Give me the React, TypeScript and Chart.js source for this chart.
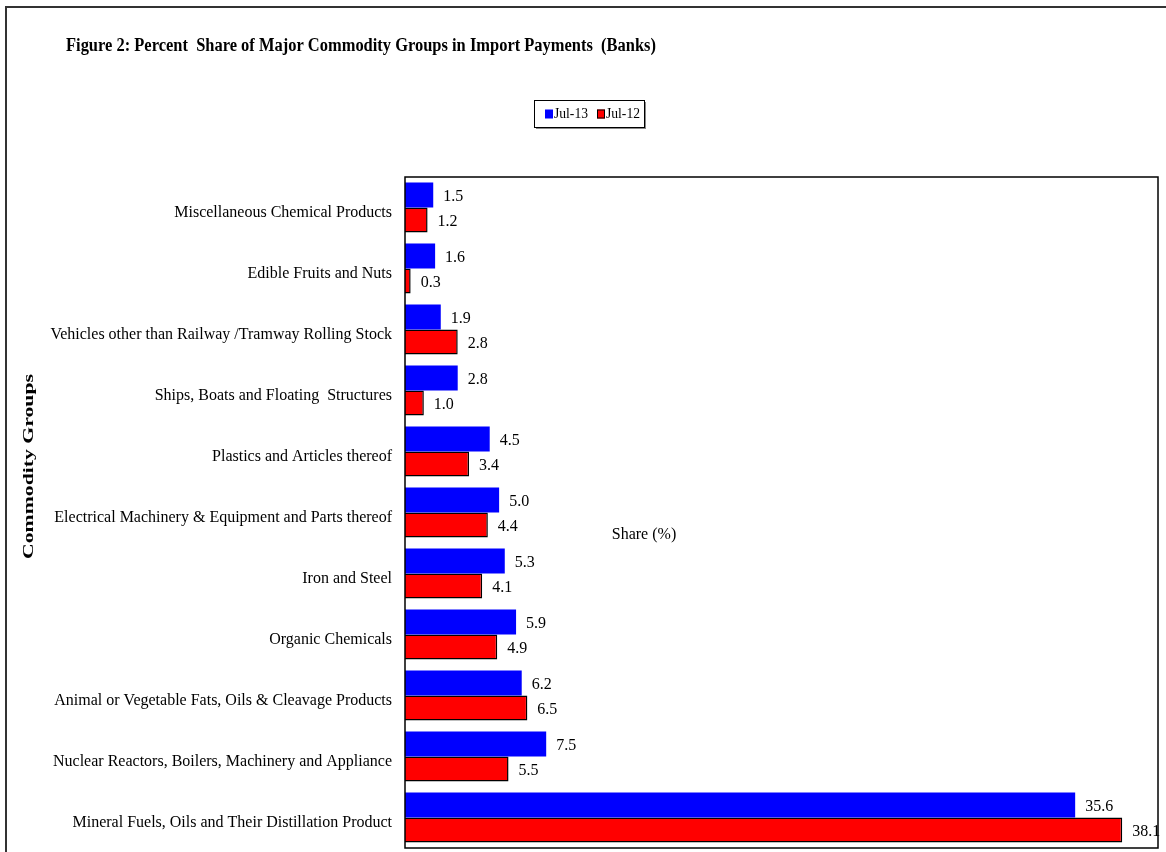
import React, { useEffect, useRef } from "react";
import { Chart, registerables } from "chart.js";

Chart.register(...registerables);

const categories: string[] = [
  "Miscellaneous Chemical Products",
  "Edible Fruits and Nuts",
  "Vehicles other than Railway /Tramway Rolling Stock",
  "Ships, Boats and Floating  Structures",
  "Plastics and Articles thereof",
  "Electrical Machinery & Equipment and Parts thereof",
  "Iron and Steel",
  "Organic Chemicals",
  "Animal or Vegetable Fats, Oils & Cleavage Products",
  "Nuclear Reactors, Boilers, Machinery and Appliance",
  "Mineral Fuels, Oils and Their Distillation Product",
];

const jul13: number[] = [1.5, 1.6, 1.9, 2.8, 4.5, 5.0, 5.3, 5.9, 6.2, 7.5, 35.6];
const jul12: number[] = [1.2, 0.3, 2.8, 1.0, 3.4, 4.4, 4.1, 4.9, 6.5, 5.5, 38.1];

const seriesNames: string[] = ["Jul-13", "Jul-12"];
const titleText = "Figure 2: Percent  Share of Major Commodity Groups in Import Payments  (Banks)";
const yTitleText = "Commodity Groups";
const xTitleText = "Share (%)";

const SERIF = '"Liberation Serif", "Times New Roman", serif';

function fitText(
  ctx: CanvasRenderingContext2D,
  text: string,
  x: number,
  y: number,
  width: number,
  font: string
) {
  ctx.save();
  ctx.font = font;
  const w = ctx.measureText(text).width;
  const s = width / w;
  ctx.translate(x, y);
  ctx.scale(s, 1);
  ctx.textAlign = "left";
  ctx.textBaseline = "middle";
  ctx.fillText(text, 0, 0);
  ctx.restore();
}

const decorPlugin = {
  id: "decor",
  afterDraw(chart: any) {
    const ctx: CanvasRenderingContext2D = chart.ctx;
    const area = chart.chartArea;
    ctx.save();
    // outer frame
    ctx.strokeStyle = "#333";
    ctx.lineWidth = 2;
    ctx.beginPath();
    ctx.moveTo(6, 900);
    ctx.lineTo(6, 7);
    ctx.lineTo(1200, 7);
    ctx.stroke();

    // plot frame
    ctx.strokeStyle = "#000";
    ctx.lineWidth = 1.5;
    ctx.strokeRect(area.left, area.top, area.right - area.left, area.bottom - area.top);

    ctx.fillStyle = "#000";
    // title
    fitText(ctx, titleText, 66, 46, 590, "bold 18px " + SERIF);

    // y title
    ctx.save();
    ctx.translate(29, 467);
    ctx.rotate(-Math.PI / 2);
    fitText(ctx, yTitleText, -92, 0, 185, "bold 15px " + SERIF);
    ctx.restore();

    // x title inside plot
    ctx.font = "16px " + SERIF;
    ctx.textAlign = "center";
    ctx.textBaseline = "middle";
    ctx.fillText(xTitleText, 644, 535);

    // legend
    const lx = 534, ly = 100, lw = 110, lh = 27;
    ctx.fillStyle = "#888";
    ctx.fillRect(lx + 2, ly + 2, lw, lh);
    ctx.fillStyle = "#fff";
    ctx.fillRect(lx, ly, lw, lh);
    ctx.strokeStyle = "#000";
    ctx.lineWidth = 1;
    ctx.strokeRect(lx + 0.5, ly + 0.5, lw, lh);
    const cy = ly + lh / 2;
    const colors = ["#0000FF", "#FF0000"];
    const sx = [545, 597];
    for (let i = 0; i < seriesNames.length; i++) {
      ctx.fillStyle = colors[i];
      ctx.fillRect(sx[i], cy - 4, 8, 9);
      if (i === 1) {
        ctx.strokeStyle = "#000";
        ctx.lineWidth = 1;
        ctx.strokeRect(sx[i] + 0.5, cy - 3.5, 7, 8);
      }
      ctx.fillStyle = "#000";
      fitText(ctx, seriesNames[i], sx[i] + 9, cy + 1, 34, "14px " + SERIF);
    }
    ctx.restore();
  },
  afterDatasetsDraw(chart: any) {
    const ctx: CanvasRenderingContext2D = chart.ctx;
    ctx.save();
    ctx.font = "16px " + SERIF;
    ctx.fillStyle = "#000";
    ctx.textAlign = "left";
    ctx.textBaseline = "middle";
    chart.data.datasets.forEach((ds: any, di: number) => {
      const meta = chart.getDatasetMeta(di);
      meta.data.forEach((bar: any, i: number) => {
        const v = ds.data[i] as number;
        ctx.fillText(v.toFixed(1), bar.x + 10, bar.y + 2);
      });
    });
    ctx.restore();
  },
};

export default function App() {
  const ref = useRef<HTMLCanvasElement | null>(null);
  useEffect(() => {
    if (!ref.current) return;
    const chart = new Chart(ref.current, {
      type: "bar",
      data: {
        labels: categories,
        datasets: [
          {
            label: seriesNames[0],
            data: jul13,
            backgroundColor: "#0000FF",
            borderWidth: 0,
            categoryPercentage: 0.82,
            barPercentage: 1.0,
          },
          {
            label: seriesNames[1],
            data: jul12,
            backgroundColor: "#FF0000",
            borderColor: "#000000",
            borderWidth: 1.5,
            categoryPercentage: 0.82,
            barPercentage: 1.0,
          },
        ],
      },
      options: {
        indexAxis: "y",
        animation: false,
        responsive: false,
        maintainAspectRatio: false,
        layout: { padding: { top: 177, left: 0, right: 8, bottom: 4 } },
        plugins: {
          legend: { display: false },
          title: { display: false },
          tooltip: { enabled: false },
        },
        scales: {
          x: {
            display: false,
            min: 0,
            max: 40,
            grid: { display: false },
            afterFit: (s: any) => {
              s.height = 0;
            },
          },
          y: {
            afterFit: (s: any) => {
              s.width = 405;
              s.paddingTop = 0;
              s.paddingBottom = 0;
            },
            grid: { display: false, drawTicks: false },
            border: { display: false },
            ticks: {
              color: "#000",
              padding: 13,
              autoSkip: false,
              labelOffset: 5,
              font: { family: SERIF, size: 16 },
            },
          },
        },
      },
      plugins: [decorPlugin],
    });
    return () => chart.destroy();
  }, []);
  return (
    <div style={{ position: "absolute", left: 0, top: 0, width: 1166, height: 852, background: "#fff" }}>
      <canvas ref={ref} width={1166} height={852} style={{ width: 1166, height: 852 }} />
    </div>
  );
}
